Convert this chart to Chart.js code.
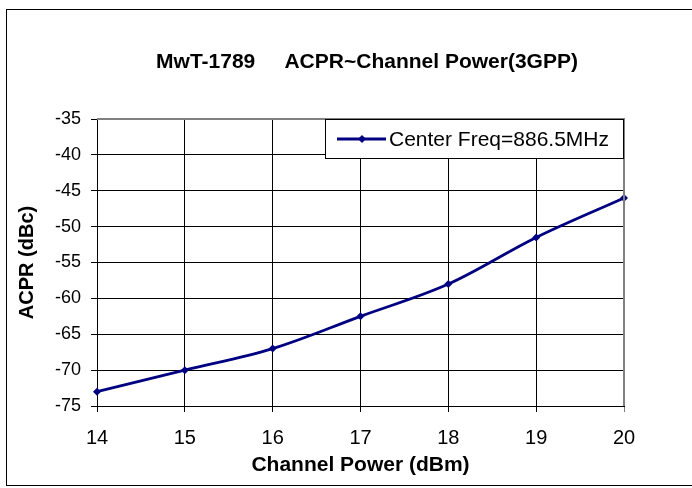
<!DOCTYPE html>
<html>
<head>
<meta charset="utf-8">
<script src="https://cdn.jsdelivr.net/npm/chart.js@4.4.0/dist/chart.umd.min.js"></script>
<style>
    html, body { margin: 0; padding: 0; background: #fff; }
    #wrap { width: 692px; height: 488px; }
</style>
</head>
<body>
<div id="wrap"><canvas id="acprChart" width="692" height="488"></canvas></div>
<script>
// Chart data
const channelPower = [14, 15, 16, 17, 18, 19, 20];
const acpr = [-73, -70, -67, -62.5, -58, -51.5, -46];
const seriesLabel = 'Center Freq=886.5MHz';
const chartTitle = 'MwT-1789     ACPR~Channel Power(3GPP)';
const xTitle = 'Channel Power (dBm)';
const yTitle = 'ACPR (dBc)';

const FONT = "'Liberation Sans', Arial, sans-serif";
const NAVY = '#000080';

// Frame, title, plot border and legend box
const decorPlugin = {
    id: 'decor',
    beforeDraw(chart) {
        const ctx = chart.ctx;
        ctx.save();
        ctx.fillStyle = '#fff';
        ctx.fillRect(0, 0, chart.width, chart.height);
        ctx.strokeStyle = '#000';
        ctx.lineWidth = 1;
        ctx.strokeRect(6.5, 9.5, 720, 476);
        ctx.restore();
    },
    afterDatasetsDraw(chart) {
        const ctx = chart.ctx;
        const a = chart.chartArea;
        ctx.save();
        // gray top / right plot border
        ctx.strokeStyle = '#808080';
        ctx.lineWidth = 2;
        ctx.beginPath();
        ctx.moveTo(a.left, a.top);
        ctx.lineTo(a.right, a.top);
        ctx.lineTo(a.right, a.bottom);
        ctx.stroke();

        // title
        ctx.fillStyle = '#000';
        ctx.font = 'bold 21px ' + FONT;
        ctx.textAlign = 'center';
        ctx.textBaseline = 'middle';
        ctx.fillText(chartTitle, 367, 62);

        // legend
        const lx = 325, ly = a.top, lw = a.right - 325, lh = 40;
        ctx.fillStyle = '#fff';
        ctx.fillRect(lx, ly, lw, lh);
        ctx.strokeStyle = '#000';
        ctx.lineWidth = 1;
        ctx.strokeRect(lx + 0.5, ly + 0.5, lw - 1, lh - 1);
        const cy = ly + lh / 2;
        ctx.strokeStyle = NAVY;
        ctx.lineWidth = 2.8;
        ctx.beginPath();
        ctx.moveTo(337, cy);
        ctx.lineTo(386, cy);
        ctx.stroke();
        ctx.fillStyle = NAVY;
        ctx.beginPath();
        ctx.moveTo(362, cy - 4);
        ctx.lineTo(366, cy);
        ctx.lineTo(362, cy + 4);
        ctx.lineTo(358, cy);
        ctx.closePath();
        ctx.fill();
        ctx.fillStyle = '#000';
        ctx.font = '21px ' + FONT;
        ctx.textAlign = 'left';
        ctx.fillText(seriesLabel, 389, cy + 1);
        ctx.restore();
    }
};

const ctx = document.getElementById('acprChart').getContext('2d');
new Chart(ctx, {
    type: 'line',
    data: {
        datasets: [{
            label: seriesLabel,
            data: channelPower.map((x, i) => ({ x: x, y: acpr[i] })),
            borderColor: NAVY,
            backgroundColor: NAVY,
            borderWidth: 2.8,
            tension: 0.35,
            pointStyle: 'rectRot',
            pointRadius: 4,
            pointBorderWidth: 0,
            clip: false
        }]
    },
    options: {
        responsive: false,
        animation: false,
        devicePixelRatio: 1,
        layout: { padding: { left: 0, top: 119, right: 68, bottom: 0 } },
        plugins: {
            legend: { display: false },
            title: { display: false },
            tooltip: { enabled: false }
        },
        scales: {
            x: {
                type: 'linear',
                min: 14,
                max: 20,
                afterFit: s => { s.height = 82; },
                ticks: {
                    stepSize: 1,
                    color: '#000',
                    padding: 14,
                    font: { family: FONT, size: 20 }
                },
                grid: {
                    color: c => c.tick && c.tick.value === 20 ? '#808080' : '#000',
                    lineWidth: 1,
                    tickLength: 6
                },
                border: { color: '#000', width: 1 },
                title: {
                    display: true,
                    text: xTitle,
                    color: '#000',
                    font: { family: FONT, size: 21, weight: 'bold' },
                    padding: { top: 0, bottom: 10 }
                }
            },
            y: {
                min: -75,
                max: -35,
                afterFit: s => { s.width = 97; },
                ticks: {
                    stepSize: 5,
                    color: '#000',
                    padding: 10,
                    font: { family: FONT, size: 18 }
                },
                grid: {
                    color: '#000',
                    lineWidth: 1,
                    tickLength: 6
                },
                border: { color: '#000', width: 1 },
                title: {
                    display: true,
                    text: yTitle,
                    color: '#000',
                    font: { family: FONT, size: 20, weight: 'bold' },
                    padding: { top: 15, bottom: 0 }
                }
            }
        }
    },
    plugins: [decorPlugin]
});
</script>
</body>
</html>
